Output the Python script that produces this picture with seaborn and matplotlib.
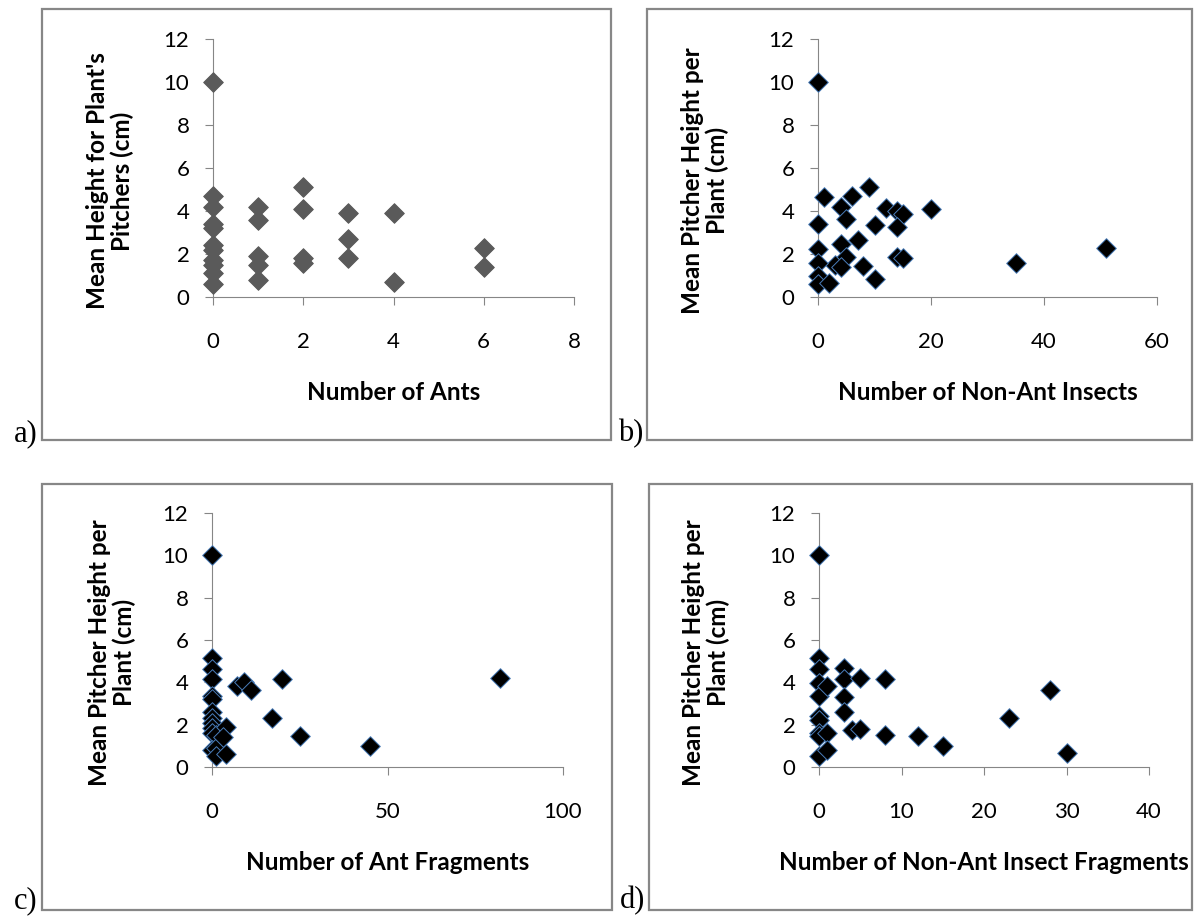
import matplotlib
matplotlib.use("Agg")
import matplotlib.pyplot as plt
from matplotlib.patches import Rectangle
import seaborn as sns
import pandas as pd

# ---------------- data ----------------
ants_x = [0, 0, 0, 0, 0, 0, 0, 0, 0, 0, 0, 1, 1, 1, 1, 1, 2, 2, 2, 2, 3, 3, 3, 4, 4, 6, 6]
ants_y = [10, 4.7, 4.2, 3.4, 3.2, 2.4, 2.2, 1.7, 1.5, 1.1, 0.6,
          4.2, 3.6, 1.9, 1.5, 0.8, 5.1, 4.1, 1.8, 1.6, 3.9, 2.7, 1.8, 3.9, 0.7, 2.3, 1.4]

insect_x = [0, 1, 4, 6, 5, 9, 12, 14, 15, 20, 0, 10, 14, 7, 4, 0, 5, 3, 4, 8,
            14, 15, 0, 0, 0, 2, 10, 35, 51]
insect_y = [10, 4.65, 4.2, 4.7, 3.65, 5.1, 4.15, 4.0, 3.85, 4.1, 3.4, 3.35, 3.25, 2.65, 2.45,
            2.25, 1.85, 1.5, 1.4, 1.45, 1.85, 1.8, 1.6, 1.0, 0.6, 0.65, 0.85, 1.6, 2.3]

antfrag_x = [0, 0, 0, 0, 0, 0, 0, 0, 0, 0, 0, 1, 0, 1, 1, 4, 4, 3, 7, 9, 11, 20, 17, 25, 45, 82]
antfrag_y = [10, 5.15, 4.65, 4.15, 3.35, 3.2, 2.6, 2.3, 2.1, 1.85, 1.6, 1.5, 0.8, 0.9, 0.5,
             0.6, 1.9, 1.4, 3.85, 4.0, 3.65, 4.15, 2.3, 1.45, 1.0, 4.2]

nonantfrag_x = [0, 0, 0, 0, 0, 0, 0, 0, 0, 0, 1, 1, 1, 3, 3, 3, 3, 4, 5, 5, 8, 8, 12, 15, 23, 28, 30]
nonantfrag_y = [10, 5.15, 4.65, 3.95, 3.35, 2.4, 2.2, 1.6, 1.45, 0.5, 3.85, 1.6, 0.8,
                4.7, 4.15, 3.3, 2.6, 1.75, 4.2, 1.8, 4.15, 1.5, 1.45, 1.0, 2.3, 3.65, 0.65]

x_labels = ["Number of Ants", "Number of Non-Ant Insects",
            "Number of Ant Fragments", "Number of Non-Ant Insect Fragments"]
y_labels = ["Mean Height for Plant's\nPitchers (cm)", "Mean Pitcher Height per\nPlant (cm)",
            "Mean Pitcher Height per\nPlant (cm)", "Mean Pitcher Height per\nPlant (cm)"]
x_ticks = [[0, 2, 4, 6, 8], [0, 20, 40, 60], [0, 50, 100], [0, 10, 20, 30, 40]]
y_ticks = [0, 2, 4, 6, 8, 10, 12]
panel_tags = ["a)", "b)", "c)", "d)"]

# ---------------- style ----------------
sns.set_theme(style="white")
plt.rcParams["font.family"] = ["Lato", "DejaVu Sans"]

W, H = 1194, 918
fig = plt.figure(figsize=(W / 100, H / 100), dpi=100)
fig.patch.set_facecolor("white")


def fx(px):
    return px / W


def fy(py):
    return 1 - py / H


# axes rectangles in pixels: (left, top, right, bottom)
ax_px = [(213, 39, 574, 297), (818, 39, 1157, 297), (212, 513, 563, 767), (819, 513, 1149, 767)]
box_px = [(42, 9, 611, 440), (647, 9, 1192, 440), (42, 484, 612, 910), (649, 484, 1192, 910)]
tag_px = [(14, 441), (618, 441), (14, 908), (620, 908)]
ylab_off = [-103, -113, -100, -113]

datasets = [(ants_x, ants_y), (insect_x, insect_y), (antfrag_x, antfrag_y), (nonantfrag_x, nonantfrag_y)]
face = ["#5a5a5a", "black", "black", "black"]
edge = ["#5a5a5a", "#4a7ebb", "#4a7ebb", "#4a7ebb"]

axis_col = "#868686"

for i in range(4):
    l, t, r, b = ax_px[i]
    ax = fig.add_axes([fx(l), fy(b), (r - l) / W, (b - t) / H])
    xs, ys = datasets[i]
    df = pd.DataFrame({"x": xs, "y": ys})
    sns.scatterplot(data=df, x="x", y="y", ax=ax, marker="D", s=100,
                    color=face[i], edgecolor=edge[i], linewidth=0.7,
                    clip_on=False, zorder=3)
    ax.set_xlim(x_ticks[i][0], x_ticks[i][-1])
    ax.set_ylim(0, 12)
    ax.set_xticks(x_ticks[i])
    ax.set_yticks(y_ticks)
    ax.set_facecolor("none")
    for s in ["top", "right"]:
        ax.spines[s].set_visible(False)
    for s in ["left", "bottom"]:
        ax.spines[s].set_color(axis_col)
        ax.spines[s].set_linewidth(0.8)
    ax.tick_params(axis="both", direction="out", length=6, width=0.8, color=axis_col,
                   labelsize=16, labelcolor="black", bottom=True, left=True)
    ax.tick_params(axis="x", pad=19)
    ax.tick_params(axis="y", pad=11)
    h = b - t
    w = r - l
    ax.set_xlabel(x_labels[i], fontsize=17.5, fontweight="bold", color="black")
    ax.xaxis.set_label_coords(0.5, -95 / h)
    ax.xaxis.label.set_va("center")
    ax.set_ylabel(y_labels[i], fontsize=17.5, fontweight="bold", color="black",
                  linespacing=1.1)
    ax.yaxis.set_label_coords(ylab_off[i] / w, 0.45)
    ax.yaxis.label.set_va("center")
    ax.yaxis.label.set_ha("center")

    bl, bt, br, bb = box_px[i]
    fig.add_artist(Rectangle((fx(bl), fy(bb)), (br - bl) / W, (bb - bt) / H,
                             transform=fig.transFigure, fill=False,
                             edgecolor="#878787", linewidth=1.6))
    tx, ty = tag_px[i]
    fig.text(fx(tx), fy(ty), panel_tags[i], family=["Liberation Serif", "DejaVu Serif"],
             fontsize=22, ha="left", va="baseline", color="black")

fig.savefig("out.png", dpi=100, facecolor="white")
